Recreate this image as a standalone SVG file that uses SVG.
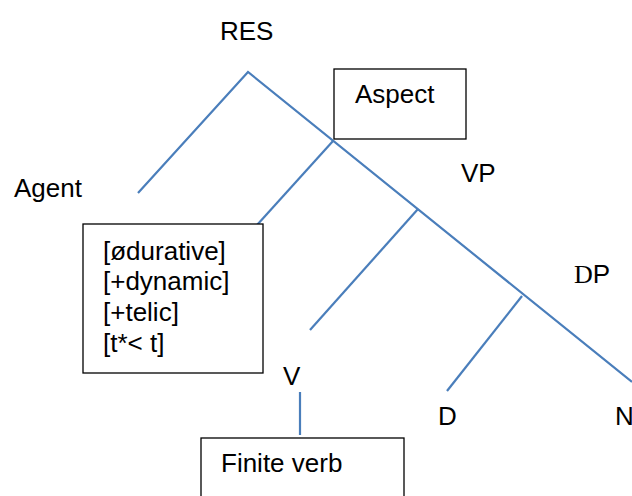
<svg xmlns="http://www.w3.org/2000/svg" width="632" height="496" viewBox="0 0 632 496">
<style>
text{font-family:"Liberation Sans",Arial,sans-serif;font-size:26px;fill:#000}
.box{fill:#fff;stroke:#000;stroke-width:1.3}
.edge{stroke:#4a7ebb;stroke-width:2.2;fill:none}
.serif{font-family:"Liberation Serif","Times New Roman",serif}
</style>
<rect width="632" height="496" fill="#fff"/>
<g id="connectors">
<polyline class="edge" points="138,193 248,72 632,382"/>
<line class="edge" x1="333" y1="141" x2="257" y2="225"/>
<line class="edge" x1="418" y1="209" x2="310" y2="330"/>
<line class="edge" x1="522" y1="296" x2="447" y2="391"/>
<line class="edge" x1="300" y1="392" x2="300" y2="435"/>
</g>
<g id="RES"><text x="220" y="40">RES</text></g>
<g id="Aspect"><rect class="box" x="334" y="69" width="132" height="70"/><text x="355" y="103">Aspect</text></g>
<g id="Agent"><text x="14" y="197">Agent</text></g>
<g id="VP"><text x="461" y="182">VP</text></g>
<g id="features"><rect class="box" x="83" y="224" width="180" height="149"/>
<text x="103" y="260">[ødurative]</text>
<text x="103" y="290">[+dynamic]</text>
<text x="103" y="321">[+telic]</text>
<text x="103" y="352">[t*&lt; t]</text>
</g>
<g id="DP"><text x="574" y="283"><tspan class="serif">D</tspan>P</text></g>
<g id="V"><text x="283" y="385">V</text></g>
<g id="D"><text x="438" y="425">D</text></g>
<g id="N"><text x="615" y="425">N</text></g>
<g id="FiniteVerb"><rect class="box" x="201" y="438" width="203" height="70"/><text x="221" y="472">Finite verb</text></g>
</svg>
